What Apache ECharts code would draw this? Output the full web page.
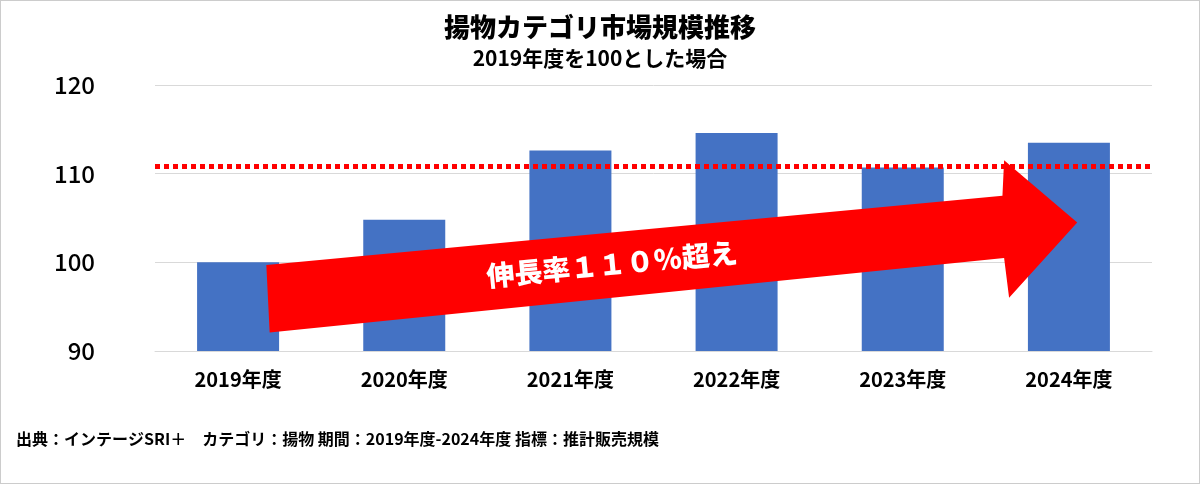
<!DOCTYPE html>
<html><head><meta charset="utf-8">
<script src="https://cdn.jsdelivr.net/npm/echarts@6/dist/echarts.min.js"></script>
<style>body{margin:0}#c{width:1200px;height:484px;box-sizing:border-box;border:1px solid #ccc}</style>
</head><body><div id="c"></div>
<script>
var years = ['2019年度','2020年度','2021年度','2022年度','2023年度','2024年度'];
var values = [100, 104.8, 112.6, 114.6, 110.7, 113.5];
var refLine = 110.8;
// arrow outline in data coords [category position, value]
var arrowPts = [[0.17,99.7],[4.60,107.5],[4.61,111.5],[5.05,104.5],[4.64,96.0],[4.61,100.5],[0.19,92.1]];
var arrowLabel = '伸長率１１０％超え';

var font = '"Noto Sans CJK JP", sans-serif';
var footer = {type: 'text', left: 15, top: 430,
  style: {text: '出典：インテージSRI＋　カテゴリ：揚物 期間：2019年度-2024年度 指標：推計販売規模',
    font: 'bold 16px ' + font, fill: '#000'}};
var chart = echarts.init(document.getElementById('c'));
chart.setOption({
  animation: false,
  title: {
    left: 'center', top: 8, text: '揚物カテゴリ市場規模推移', subtext: '2019年度を100とした場合', itemGap: 8,
    textStyle: {fontFamily: font, fontSize: 26, fontWeight: 900, color: '#000'},
    subtextStyle: {fontFamily: font, fontSize: 21, fontWeight: 'bold', color: '#000'}
  },
  grid: {left: 154, right: 47, top: 84, bottom: 132},
  xAxis: {
    type: 'category', data: years,
    axisLine: {lineStyle: {color: '#d9d9d9'}}, axisTick: {show: false},
    axisLabel: {fontFamily: font, fontSize: 20, fontWeight: 'bold', color: '#000', margin: 18}
  },
  yAxis: {
    type: 'value', min: 90, max: 120, interval: 10,
    axisLine: {show: false}, axisTick: {show: false},
    splitLine: {lineStyle: {color: '#d9d9d9'}},
    axisLabel: {fontFamily: font, fontSize: 24, fontWeight: 500, color: '#000', margin: 60}
  },
  series: [{
    type: 'bar', data: values, barWidth: 82, itemStyle: {color: '#4472c4'},
    markLine: {
      silent: true, symbol: 'none', label: {show: false},
      lineStyle: {color: '#ff0000', type: [5, 4], width: 5},
      data: [{yAxis: refLine}]
    }
  }],
  graphic: [footer]
});
var p0 = chart.convertToPixel({seriesIndex: 0}, [0, 100]);
var p1 = chart.convertToPixel({seriesIndex: 0}, [1, 100]);
function toPx(p) {
  var y = chart.convertToPixel({yAxisIndex: 0}, p[1]);
  return [p0[0] + p[0] * (p1[0] - p0[0]), y];
}
var px = arrowPts.map(toPx);
var c = toPx([2.25, 99.8]);
chart.setOption({graphic: [
  footer,
  {type: 'polygon', z: 100, shape: {points: px}, style: {fill: '#ff0000'}},
  {type: 'text', z: 101, x: c[0], y: c[1], rotation: 0.095,
   style: {text: arrowLabel, font: '900 28px ' + font, fill: '#fff', align: 'center', verticalAlign: 'middle'}}
]}, {replaceMerge: ['graphic']});
</script></body></html>
